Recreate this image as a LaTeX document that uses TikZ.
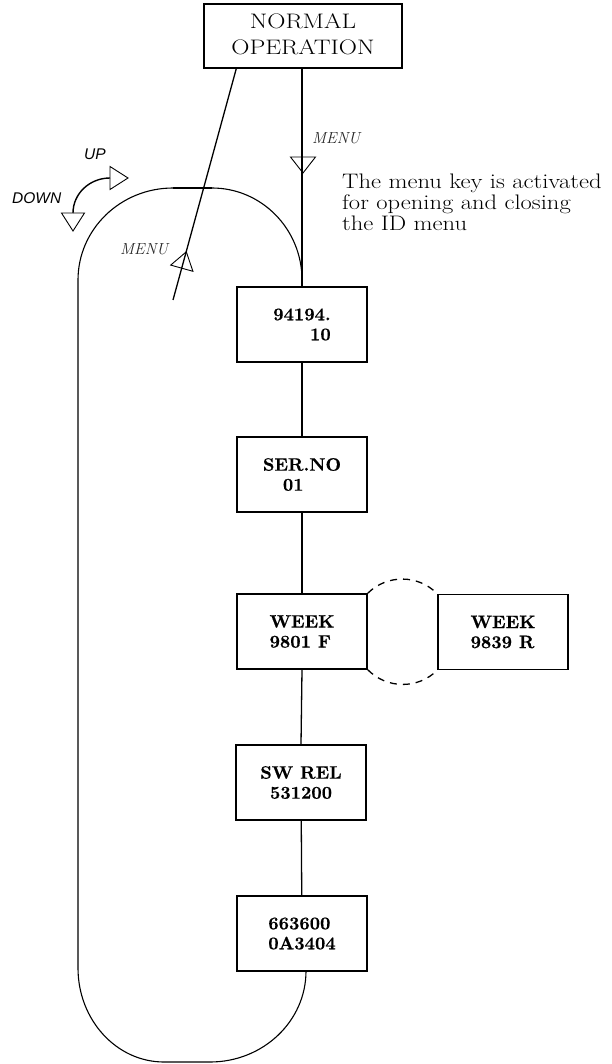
\documentclass[tikz,border=0pt]{standalone}
\usepackage{fontspec}
\usepackage{graphicx}
\newfontfamily\sansfam{Liberation Sans}
\newfontfamily\boxfam{lmroman10-bold.otf}[FakeBold=0.5]
\usetikzlibrary{calc}
\begin{document}
\begin{tikzpicture}[x=1pt,y=-1pt,
  box/.style={draw, line width=1.5pt, minimum width=130pt, minimum height=75pt, inner sep=0pt, align=left, font=\boxfam\fontsize{18}{20}\selectfont},
  wire/.style={line width=1.3pt},
  loopline/.style={line width=1.1pt},
  tri/.style={draw, line width=0.9pt, line join=miter},
  dashlink/.style={line width=1.3pt, dash pattern=on 7pt off 6pt},
  keylabel/.style={font=\fontsize{16}{16}\selectfont\itshape, inner sep=0pt, anchor=base west, text=black!85},
  dirlabel/.style={font=\sansfam\itshape\fontsize{15.5}{16}\selectfont, inner sep=0pt, anchor=base west}]
\useasboundingbox (0,0) rectangle (611,1064);

% header box
\node[draw, line width=1.5pt, minimum width=198pt, minimum height=64pt, inner sep=0pt,
      font=\fontsize{21}{26}\selectfont] (normal) at (303,36)
  {\scalebox{1.2}[1]{\begin{tabular}{@{}c@{}}NORMAL\\OPERATION\end{tabular}}};

% ID menu boxes
\node[box, align=right] (id) at (302,324.5) {94194.\\10};
\node[box] (ser) at (302,474.5) {SER.NO\\\hspace*{20pt}01};
\node[box] (wk1) at (302,631.5) {WEEK\\9801 F};
\node[box] (wk2) at (503,632) {WEEK\\9839 R};
\node[box, align=center] (sw) at (301,782.5) {SW REL\\531200};
\node[box] (mod) at (302,933.5) {663600\\0A3404};

% connectors
\draw[wire] (normal.south -| id.north) -- (id.north);
\draw[wire] (id) -- (ser);
\draw[wire] (ser) -- (wk1);
\draw[wire] (wk1.south) -- (sw.north);
\draw[wire] (sw) -- (mod);

% alternative week display
\draw[dashlink] (wk1.north east) to[bend left=45] (wk2.north west);
\draw[dashlink] (wk1.south east) to[bend right=45] (wk2.south west);

% return line to normal operation
\coordinate (slend) at (173,300);
\draw[wire] (slend) -- ($(normal.south west)+(33,0)$);

% scrolling loop
\draw[loopline] (id.north) -- (302,280)
  arc[start angle=0, end angle=-90, x radius=90, y radius=92]
  -- (173,188)
  arc[start angle=-90, end angle=-180, x radius=95, y radius=92]
  -- (78,968)
  arc[start angle=180, end angle=90, x radius=86, y radius=94]
  -- (210,1062)
  arc[start angle=90, end angle=0, x radius=96, y radius=91];
\draw[line width=2.2pt] (173,188) -- (212,188);

% UP / DOWN arrow
\draw[line width=1.4pt] (73,213) arc[start angle=180, end angle=270, x radius=37, y radius=35];
\draw[tri] (110,166.5) -- (110,189.5) -- (128,178) -- cycle;
\draw[tri] (61.5,213) -- (84.5,213) -- (73,231) -- cycle;
\node[dirlabel] (up) at (84,160) {UP};
\node[dirlabel] (down) at (12,204) {DOWN};

% MENU arrows
\draw[tri] (290.5,157) -- (315.5,157) -- (303,173) -- cycle;
\node[keylabel] (menu1) at (312,144) {MENU};
\draw[tri] (170.7,265.1) -- (192.9,271.3) -- (186.3,251.8) -- cycle;
\node[keylabel] (menu2) at (120,255) {MENU};

% description
\node[anchor=base west, inner sep=0pt, font=\fontsize{21}{20.5}\selectfont] (note) at (342,189)
  {\scalebox{1.17}[1]{\begin{tabular}[t]{@{}l@{}}The menu key is activated\\for opening and closing\\the ID menu\end{tabular}}};
\end{tikzpicture}
\end{document}
